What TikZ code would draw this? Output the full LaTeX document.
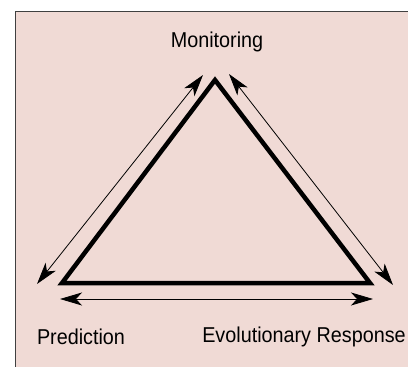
\documentclass[tikz,border=0pt]{standalone}
\usepackage{fontspec}
\setmainfont{Liberation Sans}
\usetikzlibrary{arrows.meta}
\definecolor{panel}{HTML}{F0DAD5}
\tikzset{
	x=1pt, y=-1pt,
	every path/.style = {line width=0.8pt},
	side/.style={line width=4.5pt, line join=miter},
	link/.style={{Stealth[length=22pt,width=13pt,inset=6pt]}-{Stealth[length=22pt,width=13pt,inset=6pt]}, line width=0.8pt},
	lbl/.style={inner sep=0pt, xscale=0.92, font=\fontsize{21.5}{24}\selectfont}
}
\begin{document}
\begin{tikzpicture}
		\useasboundingbox (0,0) rectangle (408,367);
		\filldraw[fill=panel, draw=black!75, line width=1pt] (15,11) rectangle (420,380);

		\coordinate (top) at (215,80);
		\coordinate (bl) at (62,283);
		\coordinate (br) at (370,283);
		\draw[side] (top) -- (bl) -- (br) -- cycle;

		\node[lbl] (mon) at (217,42) {Monitoring};
		\node[lbl] (pred) at (81,337) {Prediction};
		\node[lbl] (evo) at (304,337) {Evolutionary Response};

		\coordinate (l1) at (37,284);
		\coordinate (l2) at (203,75);
		\coordinate (r1) at (229,74);
		\coordinate (r2) at (393,285);
		\coordinate (b1) at (60,299);
		\coordinate (b2) at (373,299);
		\draw[link] (l1) -- (l2);
		\draw[link] (r1) -- (r2);
		\draw[link] (b1) -- (b2);
	\end{tikzpicture}
\end{document}
